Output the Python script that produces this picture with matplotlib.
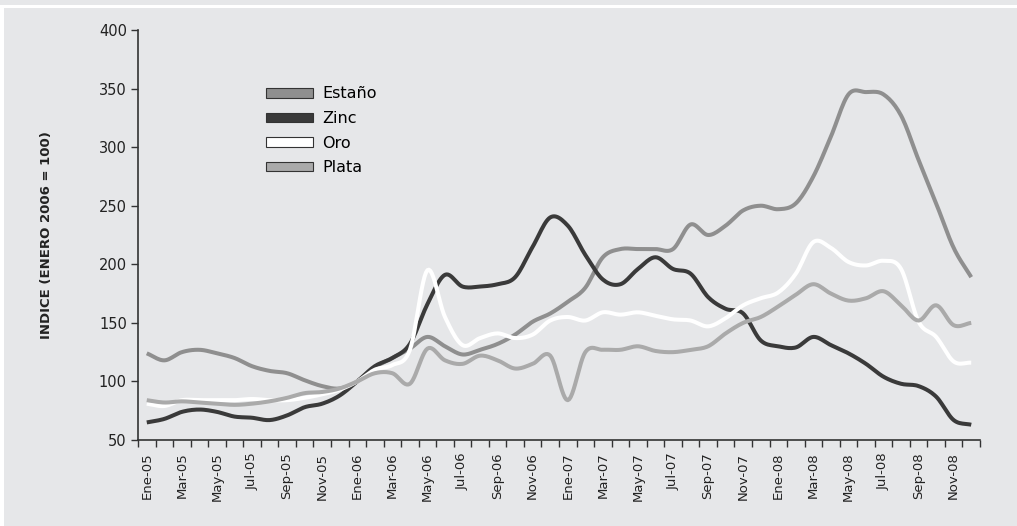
import numpy as np
import matplotlib
matplotlib.use("Agg")
import matplotlib.pyplot as plt
from matplotlib.patches import Patch, Rectangle

# month labels (Ene-05 .. Dic-08), only every second one is shown
meses = ["Ene", "Feb", "Mar", "Abr", "May", "Jun", "Jul", "Ago", "Sep", "Oct", "Nov", "Dic"]
months = [f"{m}-{y:02d}" for y in (5, 6, 7, 8) for m in meses]

estano = [124, 118, 125, 127, 124, 120, 113, 109, 107, 101, 96, 94,
          100, 112, 120, 128, 138, 130, 123, 127, 132, 140, 151, 158,
          168, 180, 206, 213, 213, 213, 213, 234, 225, 233, 246, 250,
          247, 252, 275, 309, 345, 347, 345, 327, 289, 252, 214, 189]
zinc = [65, 68, 74, 76, 74, 70, 69, 67, 71, 78, 81, 88,
        100, 113, 120, 132, 166, 191, 181, 181, 183, 189, 215, 240,
        233, 208, 187, 183, 196, 206, 196, 192, 172, 162, 158, 135,
        130, 129, 138, 131, 124, 115, 104, 98, 96, 87, 67, 63]
oro = [81, 79, 84, 84, 84, 84, 85, 84, 84, 86, 89, 93,
       100, 110, 114, 127, 195, 155, 131, 137, 141, 137, 140, 152,
       155, 152, 159, 157, 159, 156, 153, 152, 147, 154, 165, 171,
       176, 192, 219, 214, 202, 199, 203, 196, 151, 138, 117, 116]
plata = [84, 82, 83, 82, 81, 80, 81, 83, 86, 90, 91, 94,
         100, 107, 107, 98, 128, 118, 115, 122, 118, 111, 115, 122,
         84, 125, 127, 127, 130, 126, 125, 127, 130, 141, 150, 155,
         164, 174, 183, 175, 169, 171, 177, 165, 152, 165, 148, 150]

series = [("Estaño", estano, "#8f8f8f"),
          ("Zinc", zinc, "#3a3a3a"),
          ("Oro", oro, "#ffffff"),
          ("Plata", plata, "#aaaaaa")]

BG = "#e6e7e9"


def smooth(y, n=12):
    # Catmull-Rom through the monthly points, like the smoothed lines of the original
    y = np.asarray(y, dtype=float)
    p = np.concatenate([[2 * y[0] - y[1]], y, [2 * y[-1] - y[-2]]])
    xs, ys = [], []
    for i in range(len(y) - 1):
        p0, p1, p2, p3 = p[i], p[i + 1], p[i + 2], p[i + 3]
        t = np.linspace(0, 1, n, endpoint=False)
        yy = 0.5 * (2 * p1 + (-p0 + p2) * t + (2 * p0 - 5 * p1 + 4 * p2 - p3) * t ** 2
                    + (-p0 + 3 * p1 - 3 * p2 + p3) * t ** 3)
        xs.append(i + t)
        ys.append(yy)
    xs.append([len(y) - 1])
    ys.append([y[-1]])
    return np.concatenate(xs), np.concatenate(ys)


fig = plt.figure(figsize=(10.17, 5.26), dpi=100, facecolor=BG)
# white frame lines of the original panel
fig.patches.append(Rectangle((0, 1 - 8 / 526), 1, 3 / 526, transform=fig.transFigure,
                             facecolor="white", edgecolor="none"))
fig.patches.append(Rectangle((0, 0), 4 / 1017, 1 - 8 / 526, transform=fig.transFigure,
                             facecolor="white", edgecolor="none"))

ax = fig.add_axes([138 / 1017, 1 - 440 / 526, (980 - 138) / 1017, (440 - 30) / 526])
ax.set_facecolor(BG)

x = np.arange(len(months))
for name, vals, col in series:
    sx, sy = smooth(vals)
    ax.plot(sx, sy, color=col, lw=2.9, solid_capstyle="butt", zorder=3)

ax.set_xlim(-0.5, len(months) - 0.5)
ax.set_ylim(50, 400)
ax.set_yticks(range(50, 401, 50))
ax.set_xticks(x[::2])
ax.set_xticklabels(months[::2], rotation=90, fontsize=9.5, color="#222222")
ax.set_xticks(np.arange(-0.5, len(months), 1), minor=True)
ax.tick_params(axis="x", which="major", length=0, pad=9)
ax.tick_params(axis="x", which="minor", length=5, width=1, color="#333333")
ax.tick_params(axis="y", length=5, width=1, color="#333333", labelsize=10.5,
               labelcolor="#222222", pad=3)

for s in ("top", "right"):
    ax.spines[s].set_visible(False)
for s in ("left", "bottom"):
    ax.spines[s].set_color("#333333")
    ax.spines[s].set_linewidth(1.2)

ax.set_ylabel("INDICE (ENERO 2006 = 100)", fontsize=9.5, fontweight="bold",
              color="#222222", labelpad=33)

handles = [Patch(facecolor=col, edgecolor="#333333", linewidth=0.8) for _, _, col in series]
ax.legend(handles, [n for n, _, _ in series], loc="upper left",
          bbox_to_anchor=(0.144, 0.878), frameon=False, fontsize=11.5,
          handlelength=2.95, handleheight=0.55, handletextpad=0.6, labelspacing=0.6,
          borderaxespad=0)

fig.savefig("out.png", dpi=100, facecolor=BG)
